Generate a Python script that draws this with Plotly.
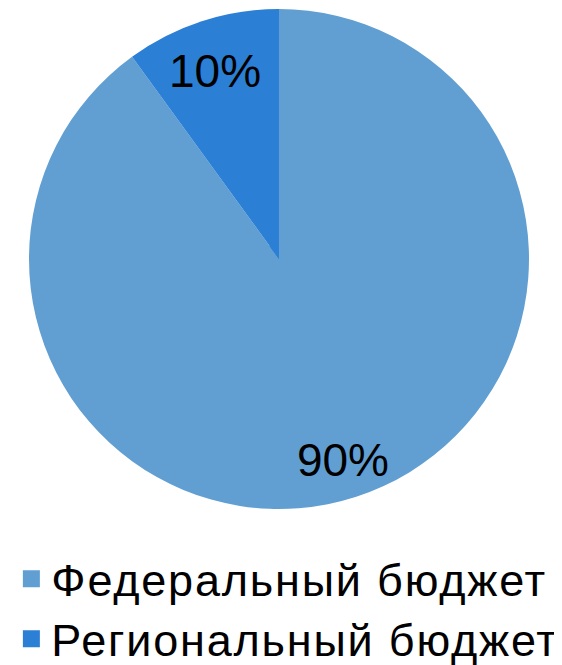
import plotly.graph_objects as go

labels = ["Федеральный бюджет", "Региональный бюджет"]
values = [90, 10]
colors = ["#619fd3", "#2b7fd5"]

FONT = "Liberation Sans, Arial, sans-serif"
PIE_DOMAIN = dict(x=[0.03737, 0.92705], y=[0.24662, 0.99850])
HIDDEN_DOMAIN = dict(x=[0.45, 0.50], y=[0.60, 0.64])
# transparent label pies: positioned so labels sit where the reference has them
LABEL_DOMAINS = [
    dict(x=[0.04395, 0.93363], y=[0.22316, 0.97504]),  # for 90 %
    dict(x=[0.05569, 0.87420], y=[0.30827, 1.00000]),  # for 10 %
]
LABEL_HOLES = [0.56, 0.0]

fig = go.Figure()

# legend-only helper pies, fully hidden behind the main pie
for i, (lab, val, col) in enumerate(zip(labels, values, colors)):
    fig.add_trace(go.Pie(
        labels=[f'<span style="letter-spacing:1.8px">{lab}</span>'],
        values=[val],
        marker=dict(colors=[col], line=dict(color=col, width=5)),
        textinfo="none",
        hoverinfo="skip",
        domain=HIDDEN_DOMAIN,
        showlegend=True,
        legend="legend" if i == 0 else "legend2",
    ))

# main pie
fig.add_trace(go.Pie(
    labels=labels,
    values=values,
    sort=False,
    direction="clockwise",
    rotation=0,
    marker=dict(colors=colors, line=dict(width=0)),
    textinfo="none",
    hoverinfo="label+percent",
    domain=PIE_DOMAIN,
    showlegend=False,
))

# percentage labels, one transparent pie per label
for k in range(len(values)):
    tmpl = ["%{percent}" if j == k else "" for j in range(len(values))]
    fig.add_trace(go.Pie(
        labels=labels,
        values=values,
        sort=False,
        direction="clockwise",
        rotation=0,
        hole=LABEL_HOLES[k],
        marker=dict(colors=["rgba(0,0,0,0)"] * len(values), line=dict(width=0)),
        textinfo="none",
        texttemplate=tmpl,
        textposition="inside",
        insidetextorientation="horizontal",
        textfont=dict(family=FONT, size=46, color="black"),
        hoverinfo="skip",
        domain=LABEL_DOMAINS[k],
        showlegend=False,
    ))

legend_style = dict(
    orientation="v",
    x=0.006, xanchor="left",
    yanchor="top",
    bgcolor="rgba(0,0,0,0)",
    font=dict(family=FONT, size=45, color="black"),
)

fig.update_layout(
    width=562, height=665,
    margin=dict(l=0, r=0, t=0, b=0, autoexpand=False),
    paper_bgcolor="white",
    plot_bgcolor="white",
    legend=dict(legend_style, y=0.1955),
    legend2=dict(legend_style, y=0.1053),
)

fig.write_html("out.html")
